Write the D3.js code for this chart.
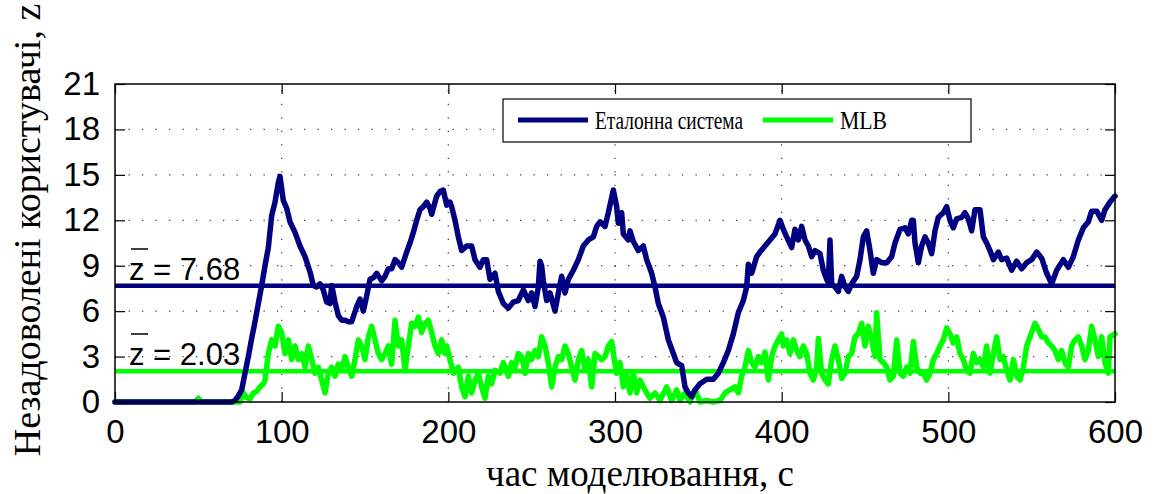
<!DOCTYPE html>
<html>
<head>
<meta charset="utf-8">
<script src="https://cdn.jsdelivr.net/npm/d3@7"></script>
<style>
  html, body { margin: 0; padding: 0; background: #fff; }
  svg { display: block; }
</style>
</head>
<body>
<div id="chart"></div>
<script>
"use strict";

// ---- data ----
var xTicks = [0, 100, 200, 300, 400, 500, 600];
var yTicks = [0, 3, 6, 9, 12, 15, 18, 21];

var etalonTime = [0, 70, 72, 74, 76, 78, 80, 82, 84, 86, 88, 90, 92, 94, 96, 98, 99,
  101, 103, 105, 108, 111, 114, 117, 119, 121, 123, 125, 127, 129, 130, 132, 134, 136, 138, 140, 142,
  145, 147, 149, 151, 153, 155, 157, 160, 162, 164, 166, 168, 170, 172, 175, 177, 179, 181, 183, 185,
  187, 189, 190, 193, 195, 197, 199, 201, 202, 204, 206, 208, 211, 214, 216, 219, 221, 223, 225, 228,
  230, 233, 236, 239, 242, 245, 248, 250, 252, 254, 255, 256, 257, 259, 261, 264, 266, 268, 270, 272,
  275, 278, 281, 284, 287, 289, 291, 294, 296, 298, 299, 301, 302, 304, 305, 308, 309, 311, 314, 317,
  319, 322, 324, 326, 329, 332, 335, 337, 340, 342, 344, 346, 348, 351, 355, 359, 362, 365, 368, 371,
  374, 377, 379, 380, 382, 385, 387, 390, 393, 396, 399, 401, 403, 406, 408, 410, 412, 414, 416, 418,
  420, 423, 425, 427, 428, 429, 430, 432, 434, 436, 438, 440, 442, 445, 447, 449, 451, 453, 455, 457,
  460, 463, 466, 468, 471, 474, 476, 478, 479, 480, 482, 484, 486, 488, 490, 492, 494, 497, 499, 501,
  503, 505, 508, 510, 512, 514, 516, 519, 521, 523, 525, 527, 530, 532, 535, 538, 541, 544, 547, 550,
  553, 556, 559, 562, 565, 569, 572, 575, 578, 581, 584, 586, 589, 592, 594, 597, 600];
var etalonZ = [0, 0, 0.1, 0.4, 0.8, 1.9, 3.0, 4.2, 5.3, 6.5, 7.7, 9.0, 10.2, 12.3, 13.2, 14.5, 14.9,
  13.3, 12.8, 11.9, 11.2, 10.3, 9.6, 8.6, 7.7, 7.6, 7.8, 7.4, 6.6, 6.5, 7.7, 6.6, 5.7, 5.4, 5.4, 5.3, 5.3,
  6.3, 6.8, 6.0, 7.0, 8.1, 8.2, 8.5, 8.0, 8.3, 8.8, 8.8, 9.4, 9.2, 8.9, 9.9, 10.5, 11.2, 12.0, 12.7, 12.9,
  13.2, 12.8, 12.4, 13.6, 13.9, 14.0, 13.0, 13.2, 12.9, 12.0, 10.9, 10.0, 10.3, 10.3, 9.4, 8.9, 9.4, 9.4, 8.1, 8.5,
  7.3, 6.5, 6.2, 6.6, 6.7, 7.4, 6.7, 7.2, 6.3, 7.6, 9.3, 9.0, 8.0, 6.7, 7.2, 6.0, 7.2, 8.3, 7.2, 8.1,
  8.7, 9.4, 10.3, 10.7, 10.9, 11.6, 11.9, 11.6, 12.5, 13.5, 14.0, 12.9, 11.8, 12.5, 11.1, 10.7, 11.3, 10.6, 10.0, 10.3,
  9.4, 8.5, 7.6, 6.5, 5.6, 4.1, 3.2, 2.6, 2.4, 1.0, 0.6, 0.35, 0.8, 1.2, 1.5, 1.5, 1.9, 2.6, 3.4, 4.5,
  5.9, 6.7, 7.6, 9.1, 8.5, 9.6, 9.9, 10.3, 10.7, 11.1, 12.0, 11.4, 10.9, 10.2, 11.4, 10.7, 11.6, 10.7, 10.3, 9.6,
  10.0, 9.8, 8.7, 8.1, 7.9, 10.7, 7.8, 7.6, 7.3, 8.3, 7.6, 7.3, 7.8, 8.3, 9.4, 10.9, 11.3, 10.0, 8.5, 9.4,
  9.2, 9.2, 9.6, 10.5, 11.4, 11.5, 11.1, 12.0, 12.0, 10.5, 9.2, 10.3, 10.9, 10.5, 9.8, 11.3, 12.2, 12.5, 12.9, 12.0,
  11.5, 12.1, 12.2, 12.5, 12.1, 11.3, 12.7, 12.7, 10.9, 10.5, 10.0, 9.4, 9.9, 9.4, 9.5, 8.7, 9.3, 8.8, 9.2, 9.4,
  9.9, 9.5, 8.5, 7.8, 8.7, 9.4, 8.9, 9.6, 10.7, 11.5, 11.9, 12.6, 12.6, 12.0, 12.7, 13.2, 13.6];

var mlbTime = [0, 48, 50, 52, 75, 77, 79, 81, 83, 85, 87, 89, 90, 92, 94, 96, 98, 100, 102, 104, 106,
  108, 110, 112, 114, 116, 118, 120, 122, 124, 126, 128, 130, 132, 134, 136, 138, 140, 142, 144, 146,
  148, 150, 152, 154, 156, 158, 160, 162, 164, 166, 168, 170, 172, 174, 176, 178, 180, 182, 184, 186,
  188, 190, 192, 194, 196, 198, 199, 201, 203, 206, 208, 210, 212, 214, 216, 218, 220, 222, 224, 226,
  228, 231, 233, 236, 238, 240, 242, 244, 246, 248, 250, 252, 254, 256, 258, 260, 262, 264, 266, 268,
  270, 272, 274, 276, 278, 280, 282, 284, 286, 288, 290, 292, 294, 296, 298, 300, 301, 303, 305, 307,
  309, 311, 313, 315, 317, 319, 321, 324, 327, 331, 334, 337, 339, 342, 345, 348, 351, 355, 359, 363,
  366, 369, 372, 374, 376, 378, 380, 382, 384, 386, 388, 390, 392, 394, 396, 398, 400, 401, 403, 405,
  407, 409, 411, 413, 415, 417, 419, 421, 422, 424, 426, 428, 430, 432, 434, 436, 438, 440, 442, 444,
  446, 448, 450, 452, 454, 456, 457, 459, 461, 463, 465, 467, 469, 471, 473, 475, 477, 479, 481, 483,
  485, 487, 489, 491, 493, 495, 497, 499, 501, 503, 505, 507, 509, 511, 513, 515, 517, 519, 521, 523,
  525, 527, 529, 531, 533, 535, 537, 539, 541, 543, 545, 547, 549, 552, 554, 556, 558, 560, 562, 564,
  566, 568, 570, 572, 574, 576, 578, 580, 582, 584, 586, 588, 590, 592, 594, 596, 597, 600];
var mlbZ = [0, 0, 0.25, 0, 0, 0.6, 0.3, 0.2, 0.6, 0.7, 1.0, 1.2, 1.45, 3.2, 4.1, 3.7, 5.0, 4.6, 3.2, 4.1, 2.8,
  3.7, 2.8, 3.2, 2.3, 3.7, 2.8, 1.9, 2.3, 1.45, 0.6, 1.9, 2.3, 1.7, 2.5, 2.1, 3.0, 2.3, 1.7, 2.8, 4.1,
  3.7, 2.8, 4.3, 5.0, 4.1, 3.2, 2.8, 3.2, 3.7, 2.5, 5.4, 3.7, 4.1, 2.1, 3.7, 5.2, 5.0, 5.6, 4.6, 5.2,
  5.4, 4.6, 3.7, 3.2, 4.1, 3.2, 3.7, 2.8, 1.9, 2.3, 1.0, 0.35, 1.7, 0.6, 1.45, 1.9, 1.0, 0.25, 1.7, 1.2,
  2.1, 1.9, 2.6, 1.7, 2.6, 2.3, 3.2, 3.0, 1.9, 3.2, 2.8, 3.4, 3.0, 4.3, 3.7, 2.6, 1.0, 2.3, 3.0, 2.8,
  3.7, 3.2, 2.3, 1.45, 2.8, 3.4, 2.1, 2.8, 1.0, 3.2, 3.0, 2.8, 3.0, 3.7, 4.0, 2.5, 1.9, 2.6, 1.0, 1.9,
  0.6, 1.9, 0.6, 1.45, 1.0, 0.6, 0.25, 0.6, 0.1, 1.0, 0.1, 0.8, 0.1, 0.6, 0, 0.8, 0, 0.1, 0, 0.1,
  0.6, 0.8, 1.0, 0.6, 1.7, 2.3, 3.4, 2.6, 2.3, 3.0, 2.6, 3.3, 1.45, 3.0, 3.7, 4.1, 4.5, 3.7, 4.1, 3.2,
  4.1, 3.4, 3.0, 3.7, 3.2, 1.9, 1.45, 2.3, 4.2, 1.9, 1.45, 1.2, 2.8, 3.7, 2.8, 1.55, 1.9, 3.0, 3.2, 4.3,
  4.5, 5.2, 3.7, 5.0, 4.1, 3.0, 5.9, 2.8, 2.6, 2.3, 1.45, 1.7, 4.1, 1.9, 1.7, 2.3, 1.9, 4.0, 2.3, 1.9,
  1.9, 1.45, 1.9, 2.8, 3.2, 3.7, 4.1, 4.9, 4.5, 3.9, 4.3, 3.2, 2.8, 2.1, 1.9, 3.2, 2.6, 2.8, 2.3, 3.7,
  1.9, 3.2, 4.3, 2.8, 3.0, 2.1, 1.45, 2.8, 1.7, 1.45, 2.3, 3.7, 4.3, 5.2, 4.8, 4.3, 4.3, 3.9, 3.7, 3.4,
  2.8, 3.4, 2.6, 2.3, 3.7, 4.1, 4.3, 3.7, 2.8, 3.4, 5.0, 4.1, 3.0, 4.3, 2.6, 1.9, 4.3, 4.5];

var meanEtalon = 7.68;
var meanMLB = 2.03;

var seriesNames = ["Еталонна система", "MLB"];
var seriesColors = ["#000080", "#00ff00"];

(function() {
  // ---- layout ----
  var W = 1160, H = 494;
  var pLeft = 115, pRight = 1115, pTop = 84, pBottom = 402;
  var serif = "Liberation Serif, Times New Roman, serif";
  var sans = "Liberation Sans, Arial, sans-serif";

  var svg = d3.select("#chart").append("svg")
    .attr("width", W)
    .attr("height", H);

  var x = d3.scaleLinear().domain([0, 600]).range([pLeft, pRight]);
  var y = d3.scaleLinear().domain([0, 21]).range([pBottom, pTop]);

  // dotted grid
  var grid = svg.append("g").attr("stroke", "#444").attr("stroke-width", 1.3)
    .attr("stroke-dasharray", "1.3,12.2");
  grid.selectAll("line.gx")
    .data(xTicks.filter(function(d) { return d > 0 && d < 600; }))
    .enter().append("line")
      .attr("x1", function(d) { return x(d); })
      .attr("x2", function(d) { return x(d); })
      .attr("y1", pBottom)
      .attr("y2", pTop);
  grid.selectAll("line.gy")
    .data(yTicks.filter(function(d) { return d > 0 && d < 21; }))
    .enter().append("line")
      .attr("x1", pLeft)
      .attr("x2", pRight)
      .attr("y1", function(d) { return y(d); })
      .attr("y2", function(d) { return y(d); });

  // mean lines
  svg.append("line")
    .attr("x1", x(0)).attr("x2", x(600))
    .attr("y1", y(meanEtalon)).attr("y2", y(meanEtalon))
    .attr("stroke", seriesColors[0]).attr("stroke-width", 4.5);
  svg.append("line")
    .attr("x1", x(0)).attr("x2", x(600))
    .attr("y1", y(meanMLB)).attr("y2", y(meanMLB))
    .attr("stroke", seriesColors[1]).attr("stroke-width", 4.5);

  // series
  var line = d3.line()
    .x(function(d) { return x(d[0]); })
    .y(function(d) { return y(d[1]); });

  var etalon = d3.zip(etalonTime, etalonZ);
  var mlb = d3.zip(mlbTime, mlbZ);

  svg.append("path")
    .datum(mlb)
    .attr("d", line)
    .attr("fill", "none")
    .attr("stroke", seriesColors[1])
    .attr("stroke-width", 5.5)
    .attr("stroke-linejoin", "round")
    .attr("stroke-linecap", "round");

  svg.append("path")
    .datum(etalon)
    .attr("d", line)
    .attr("fill", "none")
    .attr("stroke", seriesColors[0])
    .attr("stroke-width", 5.5)
    .attr("stroke-linejoin", "round")
    .attr("stroke-linecap", "round");

  // mean labels (z with a bar over it)
  function meanLabel(val, baseY) {
    var g = svg.append("g").attr("font-family", sans)
      .attr("font-size", 31).attr("fill", "#000");
    g.append("text").attr("x", 129).attr("y", baseY).text("z = " + val.toFixed(2));
    g.append("line").attr("x1", 131).attr("x2", 148)
      .attr("y1", baseY - 31).attr("y2", baseY - 31)
      .attr("stroke", "#000").attr("stroke-width", 1.5);
  }
  meanLabel(meanEtalon, 280);
  meanLabel(meanMLB, 365);

  // axes
  var gLeft = svg.append("g").attr("transform", "translate(" + pLeft + ",0)")
    .call(d3.axisLeft(y).tickValues(yTicks).tickSizeInner(-10).tickSizeOuter(0).tickPadding(15));
  var gBottom = svg.append("g").attr("transform", "translate(0," + pBottom + ")")
    .call(d3.axisBottom(x).tickValues(xTicks).tickSizeInner(-10).tickSizeOuter(0).tickPadding(18));
  var gRight = svg.append("g").attr("transform", "translate(" + pRight + ",0)")
    .call(d3.axisRight(y).tickValues(yTicks).tickSizeInner(-10).tickSizeOuter(0).tickFormat(""));
  var gTop = svg.append("g").attr("transform", "translate(0," + pTop + ")")
    .call(d3.axisTop(x).tickValues(xTicks).tickSizeInner(-10).tickSizeOuter(0).tickFormat(""));

  [gLeft, gBottom, gRight, gTop].forEach(function(g) {
    g.select(".domain").remove();
    g.selectAll(".tick line").attr("stroke", "#000").attr("stroke-width", 1.2);
    g.selectAll("text").attr("font-family", sans).attr("font-size", 33).attr("fill", "#000");
  });

  // frame
  svg.append("rect")
    .attr("x", pLeft).attr("y", pTop)
    .attr("width", pRight - pLeft).attr("height", pBottom - pTop)
    .attr("fill", "none").attr("stroke", "#000").attr("stroke-width", 1.5);

  // legend
  var legend = svg.append("g");
  legend.append("rect")
    .attr("x", 503).attr("y", 99).attr("width", 468).attr("height", 43)
    .attr("fill", "#fff").attr("stroke", "#000").attr("stroke-width", 1.2);
  var legX = [518, 763];
  var legW = [148, 47];
  seriesNames.forEach(function(name, i) {
    legend.append("line")
      .attr("x1", legX[i]).attr("x2", legX[i] + 70)
      .attr("y1", 120).attr("y2", 120)
      .attr("stroke", seriesColors[i]).attr("stroke-width", 5);
    legend.append("text")
      .attr("x", legX[i] + 77).attr("y", 129)
      .attr("font-family", serif)
      .attr("font-size", 25)
      .attr("textLength", legW[i])
      .attr("lengthAdjust", "spacingAndGlyphs")
      .text(name);
  });

  // axis titles
  svg.append("text")
    .attr("x", 640).attr("y", 486)
    .attr("text-anchor", "middle")
    .attr("font-family", serif)
    .attr("font-size", 37)
    .text("час моделювання, с");

  svg.append("text")
    .attr("transform", "translate(40,230) rotate(-90)")
    .attr("text-anchor", "middle")
    .attr("font-family", serif)
    .attr("font-size", 38)
    .text("Незадоволені користувачі, z");
}());
</script>
</body>
</html>
